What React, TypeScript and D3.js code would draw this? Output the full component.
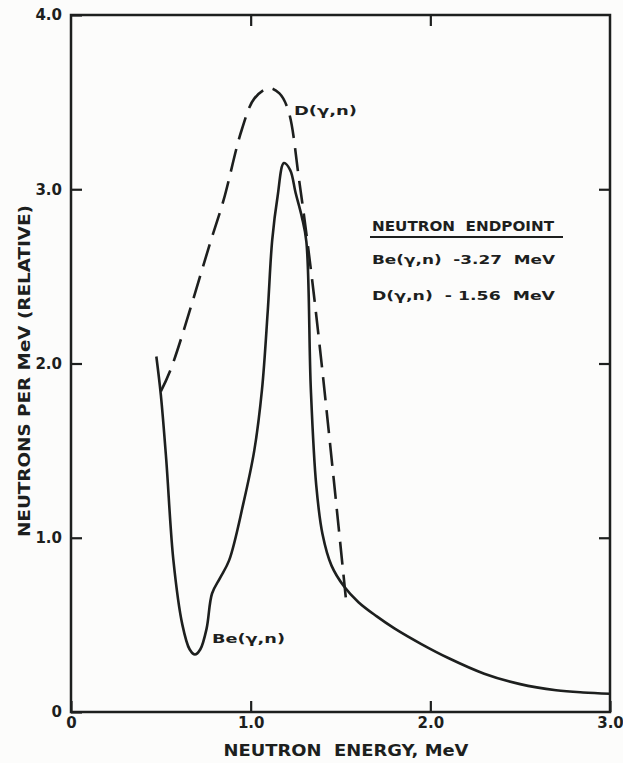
import React, { useRef, useEffect } from 'react';
import * as d3 from 'd3';

// Be(gamma,n) spectrum, solid curve: [energy MeV, neutrons per MeV]
const beEnergy = [0.475, 0.5, 0.53, 0.57, 0.62, 0.66, 0.69, 0.72, 0.755, 0.785, 0.83, 0.88, 0.96, 1.02, 1.063, 1.095, 1.12, 1.15, 1.185, 1.22, 1.25, 1.285, 1.31, 1.335, 1.365, 1.4, 1.45, 1.52, 1.6, 1.7, 1.8, 1.95, 2.1, 2.3, 2.5, 2.7, 2.85, 3.0];
const beValue = [2.04, 1.82, 1.45, 0.87, 0.5, 0.36, 0.33, 0.36, 0.48, 0.68, 0.77, 0.87, 1.2, 1.5, 1.85, 2.3, 2.71, 2.96, 3.15, 3.11, 2.98, 2.84, 2.7, 1.85, 1.3, 1.02, 0.84, 0.72, 0.63, 0.55, 0.48, 0.39, 0.31, 0.22, 0.16, 0.125, 0.112, 0.105];

// D(gamma,n) spectrum, dashed curve
const dEnergy = [0.5, 0.56, 0.78, 0.85, 0.95, 1.02, 1.1, 1.16, 1.21, 1.27, 1.335, 1.4, 1.535];
const dValue = [1.84, 1.98, 2.71, 2.94, 3.34, 3.52, 3.58, 3.55, 3.45, 3.05, 2.54, 1.95, 0.6];

const xTicks = [0, 1, 2, 3];
const xTickLabels = ['0', '1.0', '2.0', '3.0'];
const yTicks = [0, 1, 2, 3, 4];
const yTickLabels = ['0', '1.0', '2.0', '3.0', '4.0'];

const legendTitle = 'NEUTRON  ENDPOINT';
const legendLines = ['Be(γ,n)  -3.27  MeV', 'D(γ,n)  - 1.56  MeV'];

const ink = '#1d1f1e';
const font = '"DejaVu Sans", sans-serif';

const App = () => {
  const ref = useRef<SVGSVGElement | null>(null);

  useEffect(() => {
    const width = 623;
    const height = 763;
    const svg = d3.select(ref.current);
    svg.selectAll('*').remove();

    svg.append('rect').attr('width', width).attr('height', height).attr('fill', '#fcfcfb');

    const x = d3.scaleLinear().domain([0, 3]).range([71, 610]);
    const y = d3.scaleLinear().domain([0, 4]).range([712, 15]);

    // frame
    svg
      .append('rect')
      .attr('x', x(0))
      .attr('y', y(4))
      .attr('width', x(3) - x(0))
      .attr('height', y(0) - y(4))
      .attr('fill', 'none')
      .attr('stroke', ink)
      .attr('stroke-width', 2.5);

    const styleAxis = (g: any) => {
      g.select('.domain').remove();
      g.selectAll('line').attr('stroke', ink).attr('stroke-width', 2.2);
      g.selectAll('text')
        .attr('fill', ink)
        .attr('font-family', font)
        .attr('font-weight', 'bold')
        .attr('font-size', 15);
    };

    // bottom axis with labels
    svg
      .append('g')
      .attr('transform', `translate(0,${y(0)})`)
      .call(
        d3
          .axisBottom(x)
          .tickValues(xTicks)
          .tickSizeInner(-11)
          .tickSizeOuter(0)
          .tickPadding(5)
          .tickFormat((_, i) => xTickLabels[i])
      )
      .call(styleAxis);

    // left axis with labels
    svg
      .append('g')
      .attr('transform', `translate(${x(0)},0)`)
      .call(
        d3
          .axisLeft(y)
          .tickValues(yTicks)
          .tickSizeInner(-11)
          .tickSizeOuter(0)
          .tickPadding(9)
          .tickFormat((_, i) => yTickLabels[i])
      )
      .call(styleAxis);

    // top and right ticks only
    svg
      .append('g')
      .attr('transform', `translate(0,${y(4)})`)
      .call(d3.axisTop(x).tickValues([1, 2]).tickSizeInner(-11).tickSizeOuter(0).tickFormat(() => ''))
      .call(styleAxis);
    svg
      .append('g')
      .attr('transform', `translate(${x(3)},0)`)
      .call(d3.axisRight(y).tickValues([1, 2, 3]).tickSizeInner(-11).tickSizeOuter(0).tickFormat(() => ''))
      .call(styleAxis);

    const line = d3
      .line<number>()
      .x((d) => x(d))
      .curve(d3.curveCatmullRom.alpha(0.5));

    // Be(gamma,n) solid
    svg
      .append('path')
      .attr('d', line.y((_, i) => y(beValue[i]))(beEnergy))
      .attr('fill', 'none')
      .attr('stroke', ink)
      .attr('stroke-width', 2.6)
      .attr('stroke-linejoin', 'round');

    // D(gamma,n) dashed
    svg
      .append('path')
      .attr('d', line.y((_, i) => y(dValue[i]))(dEnergy))
      .attr('fill', 'none')
      .attr('stroke', ink)
      .attr('stroke-width', 2.6)
      .attr('stroke-dasharray', '23 10');

    const label = (tx: number, ty: number, s: string, size: number, len?: number) => {
      const t = svg
        .append('text')
        .attr('x', tx)
        .attr('y', ty)
        .attr('fill', ink)
        .attr('font-family', font)
        .attr('font-weight', 'bold')
        .attr('font-size', size)
        .attr('xml:space', 'preserve')
        .style('white-space', 'pre')
        .text(s);
      if (len) t.attr('textLength', len).attr('lengthAdjust', 'spacingAndGlyphs');
      return t;
    };

    // curve labels
    label(294, 115, 'D(γ,n)', 12, 63);
    label(212, 643, 'Be(γ,n)', 12, 73);

    // legend
    label(372, 231, legendTitle, 13.5, 182);
    svg
      .append('line')
      .attr('x1', 370)
      .attr('x2', 563)
      .attr('y1', 237)
      .attr('y2', 237)
      .attr('stroke', ink)
      .attr('stroke-width', 2.2);
    label(372, 264, legendLines[0], 12.5, 183);
    label(372, 300, legendLines[1], 12.5, 183);

    // axis titles
    label(346, 756, 'NEUTRON  ENERGY, MeV', 15, 245).attr('text-anchor', 'middle');
    label(0, 0, 'NEUTRONS PER MeV (RELATIVE)', 15, 332)
      .attr('text-anchor', 'middle')
      .attr('transform', 'translate(30,371) rotate(-90)');
  }, []);

  return (
    <svg
      ref={ref}
      width={623}
      height={763}
      style={{ position: 'absolute', left: 0, top: 0, display: 'block' }}
    />
  );
};

export default App;
